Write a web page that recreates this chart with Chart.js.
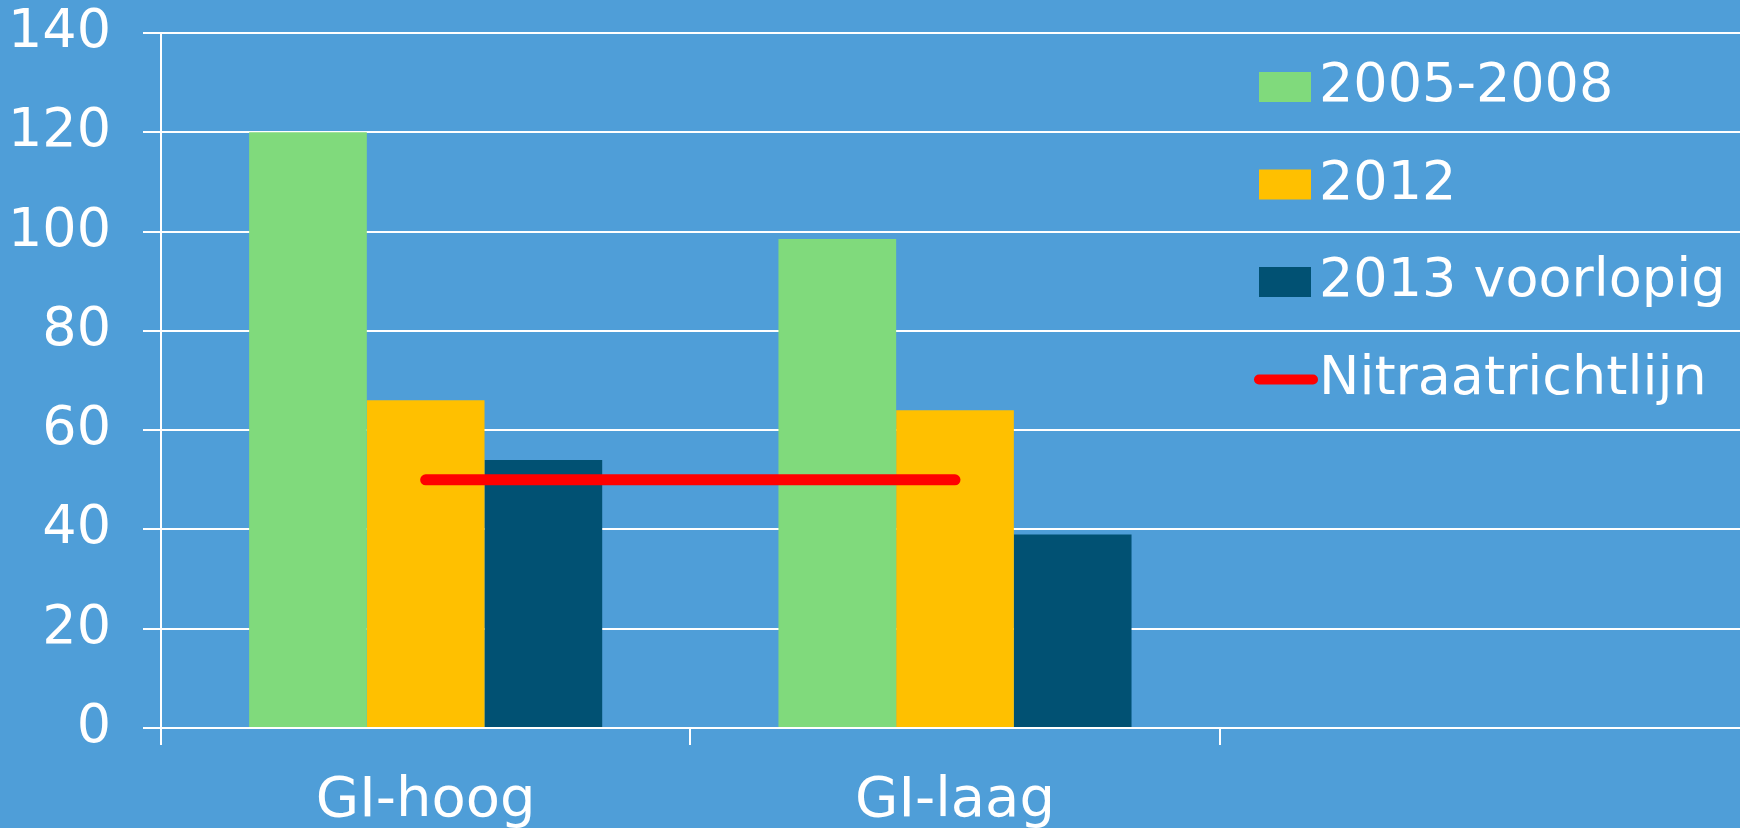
<!DOCTYPE html>
<html>
<head>
<meta charset="utf-8">
<script src="https://cdn.jsdelivr.net/npm/chart.js@4"></script>
<style>
  html, body { margin: 0; padding: 0; overflow: hidden; background: #4F9ED8; }
  #wrap { width: 1740px; height: 828px; overflow: hidden; }
  canvas { display: block; }
</style>
</head>
<body>
<div id="wrap">
  <canvas id="nitraatChart" width="1750" height="832"></canvas>
</div>
<script>
// categorieen (derde kolom is leeg in het origineel)
var categories = ['GI-hoog', 'GI-laag', ''];
var values2005_2008 = [120, 98.5, null];
var values2012 = [66, 64, null];
var values2013 = [54, 39, null];
var nitraatNorm = [50, 50, null];
var yTicks = [0, 20, 40, 60, 80, 100, 120, 140];

var fontFamily = '"DejaVu Sans", Verdana, sans-serif';

// legenda rechtsboven, getekend vanuit de datasets
var legendInPlot = {
    id: 'legendInPlot',
    afterDraw: function(chart) {
        var ctx = chart.ctx;
        var x = 1259;
        var y = 87;
        var step = 97.5;
        ctx.save();
        ctx.font = '54px ' + fontFamily;
        ctx.textBaseline = 'middle';
        ctx.textAlign = 'left';
        chart.data.datasets.forEach(function(ds) {
            if (ds.type === 'line') {
                ctx.strokeStyle = ds.borderColor;
                ctx.lineWidth = 10;
                ctx.lineCap = 'round';
                ctx.beginPath();
                ctx.moveTo(x, y);
                ctx.lineTo(x + 54, y);
                ctx.stroke();
            } else {
                ctx.fillStyle = ds.backgroundColor;
                ctx.fillRect(x, y - 15, 52, 30);
            }
            ctx.fillStyle = '#FFFFFF';
            ctx.fillText(ds.label, x + 60, y);
            y += step;
        });
        ctx.restore();
    }
};

document.addEventListener('DOMContentLoaded', function() {
    var ctx = document.getElementById('nitraatChart').getContext('2d');
    var chart = new Chart(ctx, {
        type: 'bar',
        data: {
            labels: categories,
            datasets: [
                {
                    label: '2005-2008',
                    data: values2005_2008,
                    backgroundColor: '#80DA7C',
                    borderWidth: 0
                },
                {
                    label: '2012',
                    data: values2012,
                    backgroundColor: '#FFC000',
                    borderWidth: 0
                },
                {
                    label: '2013 voorlopig',
                    data: values2013,
                    backgroundColor: '#015173',
                    borderWidth: 0
                },
                {
                    type: 'line',
                    label: 'Nitraatrichtlijn',
                    data: nitraatNorm,
                    borderColor: '#FF0000',
                    borderWidth: 11,
                    borderCapStyle: 'round',
                    pointRadius: 0,
                    fill: false,
                    order: -1
                }
            ]
        },
        options: {
            responsive: false,
            animation: false,
            devicePixelRatio: 1,
            layout: {
                padding: { left: 8, top: 0, right: 1, bottom: 0 }
            },
            datasets: {
                bar: {
                    categoryPercentage: 0.667,
                    barPercentage: 1.0
                }
            },
            plugins: {
                legend: { display: false },
                tooltip: { enabled: false }
            },
            scales: {
                x: {
                    offset: true,
                    afterFit: function(scale) {
                        scale.height = 104;
                    },
                    grid: {
                        offset: true,
                        drawOnChartArea: false,
                        drawTicks: true,
                        tickLength: 17,
                        color: '#FFFFFF',
                        lineWidth: 2
                    },
                    border: { color: '#FFFFFF', width: 2 },
                    ticks: {
                        color: '#FFFFFF',
                        padding: 23,
                        maxRotation: 0,
                        font: { family: fontFamily, size: 56 }
                    }
                },
                y: {
                    min: 0,
                    max: 140,
                    afterBuildTicks: function(axis) {
                        axis.ticks = yTicks.map(function(v) { return { value: v }; });
                    },
                    afterFit: function(scale) {
                        scale.width = 153;
                        scale.paddingTop = 33;
                        scale.paddingBottom = 0;
                    },
                    grid: {
                        color: '#FFFFFF',
                        lineWidth: 2,
                        drawTicks: true,
                        tickLength: 18
                    },
                    border: { color: '#FFFFFF', width: 2 },
                    ticks: {
                        color: '#FFFFFF',
                        padding: 32,
                        font: { family: fontFamily, size: 54 }
                    }
                }
            }
        },
        plugins: [legendInPlot]
    });
});
</script>
</body>
</html>
